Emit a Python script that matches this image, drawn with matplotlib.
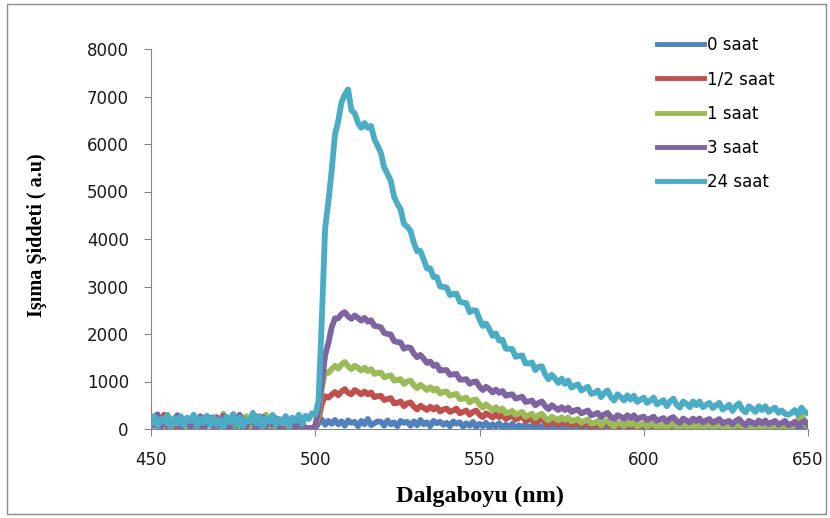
import numpy as np
import matplotlib.pyplot as plt
from matplotlib.patches import Rectangle

# dalga boyu ekseni, 1 nm aralik
dalgaboyu = np.arange(450, 651, 1)

saat_0 = [
    60, 180, 20, 130, 240, 40, 150, 0, 200, 90,
    10, 160, 70, 220, 30, 120, 0, 190, 80, 140,
    20, 210, 60, 170, 0, 130, 250, 40, 110, 0,
    180, 70, 150, 10, 230, 90, 0, 140, 60, 200,
    30, 120, 0, 160, 50, 10, 90, 0, 20, 0,
    20, 120, 200, 90, 170, 110, 190, 100, 160, 70,
    180, 130, 150, 60, 170, 100, 210, 80, 120, 160,
    150, 70, 180, 100, 140, 60, 170, 130, 150, 70,
    160, 80, 190, 100, 140, 60, 170, 120, 150, 90,
    130, 60, 160, 110, 140, 50, 120, 70, 150, 40,
    110, 60, 130, 30, 100, 50, 120, 20, 90, 40,
    110, 10, 80, 30, 100, 0, 70, 20, 90, 0,
    60, 10, 80, 0, 50, 20, 70, 0, 40, 10,
    60, 0, 30, 10, 50, 0, 20, 40, 0, 10,
    30, 0, 50, 10, 0, 20, 0, 40, 0, 10,
    20, 0, 30, 0, 10, 40, 0, 20, 0, 10,
    0, 30, 0, 20, 10, 0, 40, 0, 10, 20,
    0, 10, 30, 0, 20, 0, 10, 0, 30, 0,
    20, 0, 10, 40, 0, 10, 0, 20, 0, 30,
    0, 10, 20, 0, 30, 0, 10, 0, 20, 10,
    0,
]

saat_yarim = [
    90, 230, 10, 170, 300, 60, 190, 0, 140, 260,
    30, 200, 110, 280, 0, 150, 240, 70, 180, 20,
    250, 130, 40, 210, 90, 310, 10, 160, 230, 50,
    190, 0, 270, 120, 30, 220, 80, 290, 10, 150,
    200, 60, 130, 20, 90, 0, 40, 10, 0, 20,
    30, 200, 530, 690, 660, 720, 780, 710, 790, 840,
    760, 730, 820, 780, 730, 790, 730, 770, 670, 690,
    700, 610, 630, 650, 540, 550, 580, 480, 540, 560,
    470, 410, 490, 450, 400, 470, 410, 460, 370, 410,
    430, 360, 390, 430, 330, 360, 390, 300, 360, 390,
    300, 250, 330, 290, 240, 310, 250, 300, 210, 250,
    270, 200, 230, 270, 170, 190, 220, 130, 190, 220,
    130, 90, 170, 140, 90, 170, 110, 170, 80, 120,
    140, 70, 110, 140, 50, 80, 120, 40, 100, 140,
    60, 20, 100, 70, 30, 110, 60, 120, 40, 70,
    90, 30, 60, 110, 20, 40, 80, 10, 70, 120,
    30, 0, 80, 60, 10, 100, 50, 110, 20, 60,
    100, 30, 70, 100, 20, 40, 90, 0, 80, 110,
    40, 0, 90, 50, 20, 90, 40, 100, 30, 70,
    90, 20, 60, 110, 10, 50, 80, 10, 280, 130,
    40,
]

saat_1 = [
    150, 280, 40, 190, 100, 300, 20, 170, 250, 60,
    210, 0, 140, 290, 80, 180, 30, 260, 120, 10,
    200, 110, 320, 40, 150, 240, 0, 190, 90, 270,
    50, 160, 230, 20, 130, 300, 70, 210, 10, 180,
    100, 250, 40, 170, 80, 30, 140, 20, 0, 10,
    50, 320, 860, 1200, 1180, 1260, 1330, 1270, 1360, 1410,
    1320, 1260, 1330, 1290, 1230, 1290, 1220, 1260, 1160, 1180,
    1190, 1090, 1110, 1130, 1020, 1030, 1050, 950, 1000, 1020,
    920, 860, 930, 880, 820, 880, 810, 850, 750, 780,
    790, 700, 720, 740, 630, 640, 660, 560, 610, 620,
    520, 450, 520, 460, 400, 460, 390, 430, 330, 350,
    380, 300, 330, 360, 260, 290, 320, 230, 290, 320,
    230, 180, 260, 220, 180, 250, 190, 240, 160, 190,
    210, 130, 170, 200, 110, 130, 170, 80, 150, 180,
    100, 50, 140, 110, 60, 140, 90, 140, 60, 90,
    120, 50, 90, 120, 30, 60, 90, 20, 80, 120,
    40, 0, 90, 60, 10, 90, 40, 100, 20, 60,
    90, 20, 60, 100, 10, 40, 80, 0, 70, 110,
    30, 0, 80, 50, 10, 90, 40, 100, 20, 60,
    90, 20, 60, 100, 10, 40, 80, 200, 360, 110,
    50,
]

saat_3 = [
    200, 80, 310, 20, 150, 260, 60, 180, 290, 10,
    140, 230, 30, 200, 120, 270, 0, 160, 240, 50,
    190, 90, 280, 20, 130, 220, 70, 300, 110, 40,
    180, 250, 10, 140, 260, 60, 200, 90, 230, 30,
    150, 270, 80, 190, 20, 120, 60, 30, 10, 20,
    60, 420, 960, 1550, 1810, 2140, 2330, 2330, 2420, 2460,
    2370, 2320, 2390, 2340, 2280, 2340, 2260, 2290, 2170, 2160,
    2140, 2020, 2000, 1990, 1850, 1830, 1820, 1690, 1720, 1710,
    1590, 1510, 1560, 1480, 1390, 1420, 1330, 1350, 1230, 1240,
    1240, 1140, 1150, 1160, 1040, 1040, 1050, 950, 990, 1000,
    890, 820, 890, 840, 770, 830, 760, 800, 700, 720,
    730, 640, 660, 680, 570, 580, 600, 500, 550, 580,
    480, 420, 500, 450, 400, 460, 400, 450, 360, 390,
    410, 330, 360, 390, 290, 310, 340, 250, 310, 340,
    250, 210, 290, 260, 210, 290, 230, 290, 200, 240,
    260, 190, 220, 260, 170, 200, 230, 150, 220, 250,
    170, 130, 220, 180, 140, 220, 170, 220, 140, 180,
    210, 130, 170, 210, 120, 150, 170, 100, 170, 210,
    130, 80, 170, 140, 100, 180, 120, 180, 100, 140,
    170, 90, 130, 170, 80, 110, 150, 60, 130, 170,
    90,
]

saat_24 = [
    120, 260, 60, 210, 150, 290, 40, 230, 110, 270,
    80, 240, 170, 300, 50, 220, 130, 280, 70, 250,
    100, 190, 30, 260, 140, 310, 90, 240, 60, 200,
    160, 340, 110, 270, 40, 230, 150, 290, 80, 210,
    120, 260, 50, 240, 170, 300, 100, 280, 210, 330,
    300, 600, 2300, 4220, 4790, 5440, 6200, 6480, 6880, 7040,
    7150, 6710, 6650, 6450, 6340, 6440, 6340, 6380, 6100, 5960,
    5810, 5500, 5370, 5220, 4890, 4740, 4620, 4320, 4260, 4170,
    3920, 3740, 3750, 3570, 3380, 3380, 3200, 3200, 3000, 2990,
    2980, 2820, 2840, 2850, 2680, 2660, 2650, 2460, 2500, 2490,
    2310, 2170, 2220, 2100, 1960, 2010, 1860, 1880, 1690, 1690,
    1680, 1520, 1540, 1550, 1380, 1380, 1400, 1240, 1310, 1320,
    1150, 1050, 1140, 1060, 970, 1060, 950, 1020, 870, 910,
    940, 810, 850, 890, 740, 760, 810, 670, 760, 810,
    670, 600, 730, 670, 600, 710, 620, 700, 570, 620,
    660, 550, 600, 660, 520, 560, 610, 480, 580, 640,
    510, 450, 580, 530, 460, 580, 500, 580, 460, 510,
    550, 440, 500, 550, 410, 450, 510, 380, 480, 540,
    410, 350, 480, 430, 360, 480, 400, 480, 360, 410,
    450, 340, 390, 320, 300, 340, 400, 300, 450, 360,
    330,
]

seriler = [saat_0, saat_yarim, saat_1, saat_3, saat_24]
etiketler = ['0 saat', '1/2 saat', '1 saat', '3 saat', '24 saat']
renkler = ['#4F81BD', '#C0504D', '#9BBB59', '#8064A2', '#4BACC6']

plt.rcParams['font.family'] = ['DejaVu Sans']

fig = plt.figure(figsize=(8.3, 5.18), dpi=100)
ax = fig.add_axes([151 / 830, 1 - 429 / 518, 657 / 830, 380 / 518])

for y, etiket, renk in zip(seriler, etiketler, renkler):
    ax.plot(dalgaboyu, y, color=renk, linewidth=4.2, label=etiket)

ax.set_xlim(450, 650)
ax.set_ylim(0, 8000)
ax.set_xticks(np.arange(450, 651, 50))
ax.set_yticks(np.arange(0, 8001, 1000))

for s in ['top', 'right']:
    ax.spines[s].set_visible(False)
for s in ['left', 'bottom']:
    ax.spines[s].set_color('#868686')
ax.tick_params(axis='both', colors='#868686', labelcolor='#1a1a1a',
               labelsize=12, length=5, direction='out')
ax.tick_params(axis='y', pad=11)
ax.tick_params(axis='x', pad=11)

ax.set_xlabel('Dalgaboyu (nm)', family='Liberation Serif', weight='bold', size=17.5)
ax.set_ylabel('Işıma Şiddeti ( a.u)', family='Liberation Serif', weight='bold', size=14.5)
ax.xaxis.set_label_coords(0.5, -0.15)
ax.yaxis.set_label_coords(-0.158, 0.51)

leg = ax.legend(loc='upper left', bbox_to_anchor=(657 / 830, 1 - 36 / 518),
                bbox_transform=fig.transFigure, frameon=False, fontsize=12,
                handlelength=2.8, handletextpad=0.2, labelspacing=0.98,
                borderpad=0, borderaxespad=0)
for h in leg.get_lines():
    h.set_linewidth(3.5)

# grafik alaninin gri cercevesi
fig.patches.append(Rectangle((7 / 830, 4 / 518), 819 / 830, 510 / 518,
                             transform=fig.transFigure, fill=False,
                             edgecolor='#8c8c8c', linewidth=1))

fig.savefig('out.png', dpi=100)
